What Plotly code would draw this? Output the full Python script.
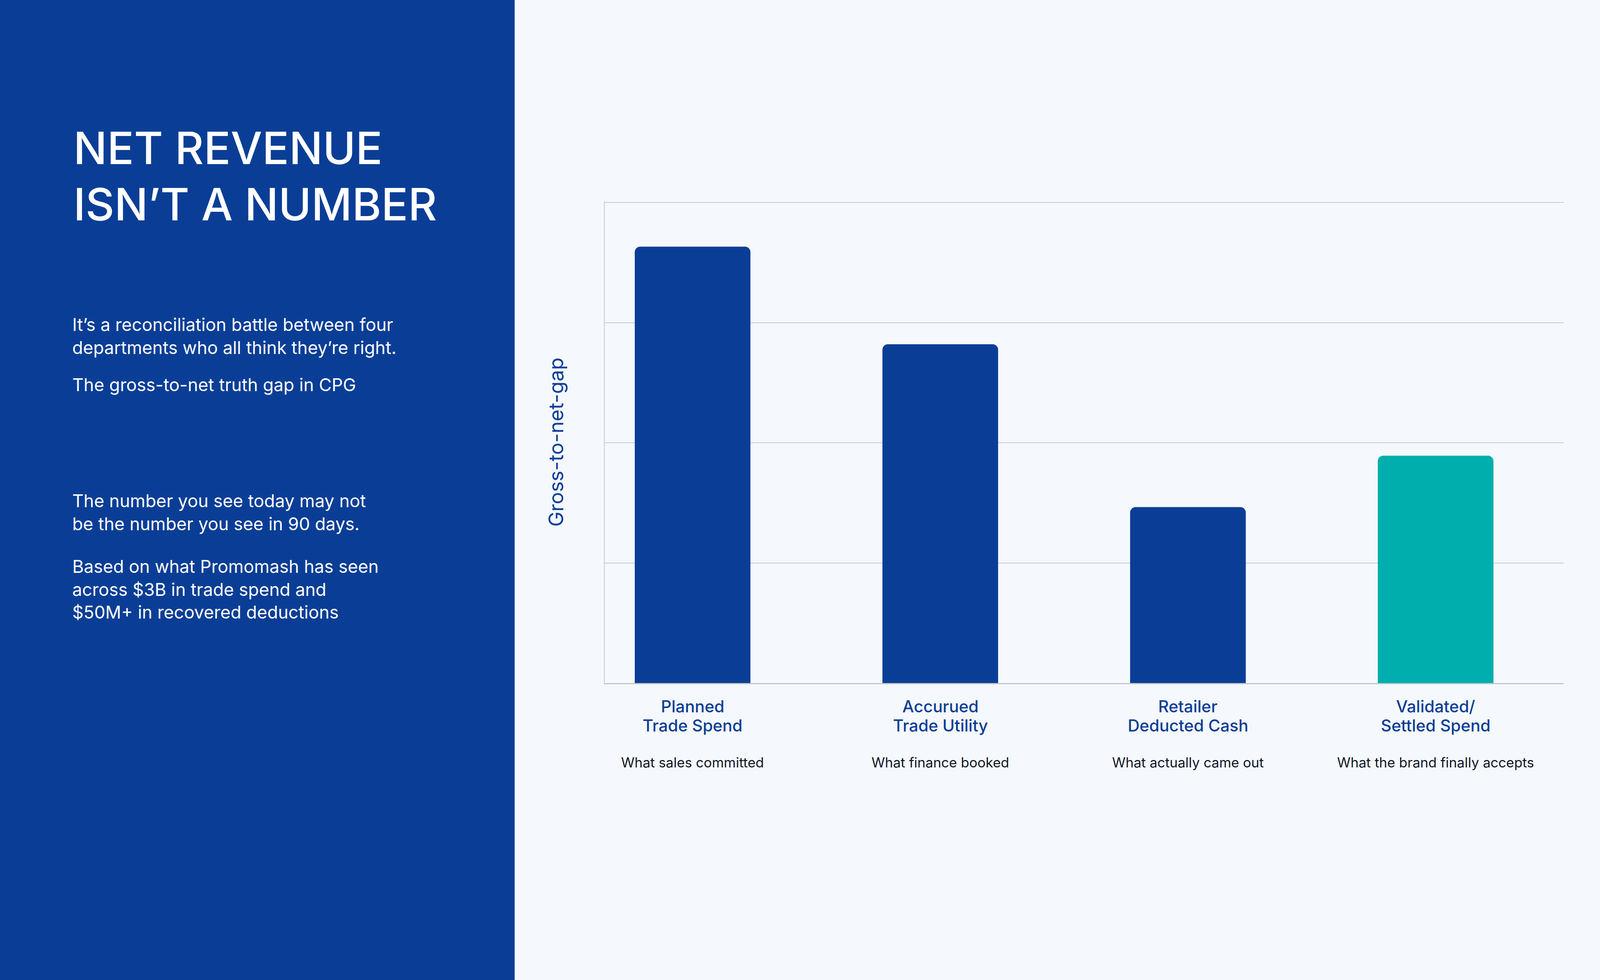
import plotly.graph_objects as go

# reference layout was measured on a 4800 x 2508 picture; positions are kept as fractions of it
W, H = 4800, 2508

# data
categories = ["Planned<br>Trade Spend", "Accurued<br>Trade Utility",
              "Retailer<br>Deducted Cash", "Validated/<br>Settled Spend"]
captions = ["What sales committed", "What finance booked",
            "What actually came out", "What the brand finally accepts"]
values = [90.8, 70.5, 36.6, 47.3]
bar_colors = ["#0A3E96", "#0A3E96", "#0A3E96", "#00AEAE"]
grid_ticks = [0, 25, 50, 75, 100]

title_lines = ["NET REVENUE", "ISN\u2019T A NUMBER"]
para_lines = [
    ("It\u2019s a reconciliation battle between four<br>departments who all think they\u2019re right.", 812),
    ("The gross-to-net truth gap in CPG", 966),
    ("The number you see today may not<br>be the number you see in 90 days.", 1263),
    ("Based on what Promomash has seen<br>across $3B in trade spend and<br>$50M+ in recovered deductions", 1431),
]

BLUE = "#0A3E96"
BG = "#F5F8FC"
FONT = "Inter"


def py(px):
    return 1 - px / H


fig = go.Figure()
fig.add_trace(go.Bar(
    x=list(range(len(values))), y=values,
    marker=dict(color=bar_colors, cornerradius=14, line=dict(width=0)),
    width=0.467, hoverinfo="skip",
))

# left panel
fig.add_shape(type="rect", xref="paper", yref="paper", x0=0, x1=1544 / W, y0=0, y1=1,
              fillcolor=BLUE, line=dict(width=0), layer="below")

ann = []
for txt, cap_top in zip(title_lines, [336, 480]):
    f = 114
    ann.append(dict(text=txt, x=218 / W, y=py(cap_top - 0.25 * f), xref="paper", yref="paper",
                    xanchor="left", yanchor="top", showarrow=False, align="left",
                    font=dict(family=FONT, size=f, color="white", weight=500)))
for txt, cap_top in para_lines:
    f = 45
    ann.append(dict(text=txt, x=215 / W, y=py(cap_top - 0.25 * f), xref="paper", yref="paper",
                    xanchor="left", yanchor="top", showarrow=False, align="left",
                    font=dict(family=FONT, size=f, color="white")))

for i, (cat, cap) in enumerate(zip(categories, captions)):
    l1, l2 = cat.split("<br>")
    for txt, top in [(l1, 1790), (l2, 1839)]:
        f = 42
        ann.append(dict(text=txt, x=i, y=py(top - 0.25 * f), xref="x", yref="paper",
                        xanchor="center", yanchor="top", showarrow=False,
                        font=dict(family=FONT, size=f, color=BLUE, weight=500)))
    f = 35
    ann.append(dict(text=cap, x=i, y=py(1937 - 0.25 * f), xref="x", yref="paper",
                    xanchor="center", yanchor="top", showarrow=False,
                    font=dict(family=FONT, size=f, color="#111827")))

fig.update_layout(
    autosize=True,
    margin=dict(l=0, r=0, t=0, b=0),
    paper_bgcolor=BG, plot_bgcolor=BG,
    showlegend=False,
    annotations=ann,
    xaxis=dict(domain=[1814 / W, 4691 / W], range=[-0.355, 3.517],
               showticklabels=False, showgrid=False, zeroline=False,
               showline=True, linecolor="#C3C7CC", linewidth=3, ticks=""),
    yaxis=dict(domain=[py(1748), py(515)], range=[0, 100.25],
               tickvals=grid_ticks, showticklabels=False,
               showgrid=True, gridcolor="#C8CDD3", gridwidth=2, zeroline=False,
               showline=True, linecolor="#C8CDD3", linewidth=2, ticks="",
               title=dict(text="Gross-to-net-gap", standoff=87,
                          font=dict(family=FONT, size=52, color=BLUE))),
)

# fill the whole browser window, without the default page margin
fix_margin = ("document.body.style.margin='0';document.body.style.overflow='hidden';"
              "Plotly.Plots.resize(document.getElementById('{plot_id}'));")
fig.write_html("out.html", default_width="100vw", default_height="100vh",
               config={"responsive": True, "displayModeBar": False}, post_script=fix_margin)
